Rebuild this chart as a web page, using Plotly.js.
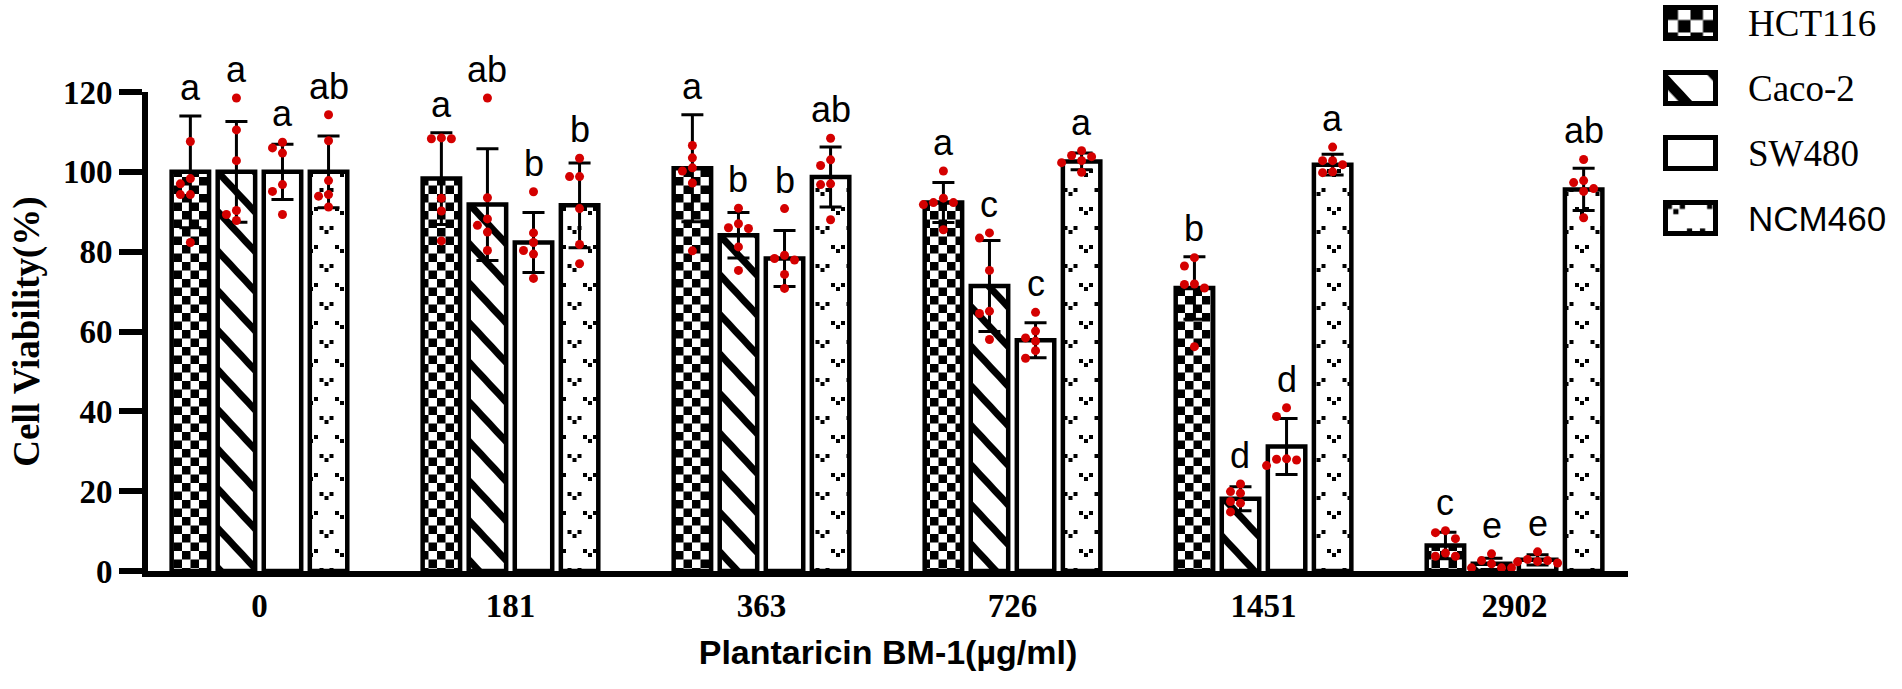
<!DOCTYPE html>
<html>
<head>
<meta charset="utf-8">
<script src="https://cdn.plot.ly/plotly-3.0.1.min.js"></script>
<style>
  body { margin: 0; background: #fff; }
  #chart { width: 1902px; height: 689px; }
</style>
</head>
<body>
<div id="chart"></div>
<script>
// ---- data ----
var doses = ['0', '181', '363', '726', '1451', '2902'];
var cellLines = ['HCT116', 'Caco-2', 'SW480', 'NCM460'];

var hctMean = [100, 98.3, 100.9, 92.3, 70.9, 6.4];
var hctSd = [14, 11.5, 13.4, 5, 7.8, 3.3];
var hctPoints = [
    [107.6, 98.3, 97, 94.3, 94.3, 82.3],
    [108.5, 108.3, 108.3, 93.4, 90.2, 82.7],
    [106.6, 103.5, 101, 100.2, 97.2, 80.2],
    [100.2, 93.4, 92.3, 92.3, 91.8, 85.5],
    [78.5, 76.4, 71.9, 70.9, 71.8, 56.2],
    [9.6, 10.1, 8.1, 4.5, 3.7, 3.7]
];
var hctLetters = ['a', 'a', 'a', 'a', 'b', 'c'];

var cacoMean = [100, 91.8, 84.1, 71.4, 18.1, 1.8];
var cacoSd = [12.6, 14, 5.7, 11.4, 3, 1.4];
var cacoPoints = [
    [118.5, 110.5, 102.8, 90.3, 89.3, 87.8],
    [118.5, 93.5, 88.2, 86.6, 84.9, 80.3],
    [90.9, 87, 86, 85.8, 81.2, 75.3],
    [83.4, 84.7, 75.3, 65.1, 64.5, 58],
    [21.8, 19.9, 19.5, 17.4, 17, 14.8],
    [4.3, 2.6, 1.8, 0.8, 0.8, 0.8]
];
var cacoLetters = ['a', 'ab', 'b', 'c', 'd', 'e'];

var swMean = [100, 82.3, 78.3, 57.8, 31.2, 2.8];
var swSd = [6.9, 7.5, 7, 4.4, 7, 1.3];
var swPoints = [
    [107.4, 106, 104.7, 96.8, 95.1, 89.3],
    [95, 84.7, 82.3, 80.3, 79.4, 73.3],
    [90.8, 79.1, 78.3, 77.9, 74.3, 70.8],
    [64.8, 60.1, 58.4, 57.6, 55.2, 53.3],
    [40.9, 38.7, 28.1, 28, 27.8, 26.4],
    [4.8, 2.9, 2.6, 2.3, 2, 2.4]
];
var swLetters = ['a', 'b', 'b', 'c', 'd', 'e'];

var ncmMean = [100, 91.6, 98.7, 102.6, 101.8, 95.6];
var ncmSd = [9, 10.6, 7.5, 2.1, 2.6, 5.3];
var ncmPoints = [
    [114.3, 107.8, 97.8, 94.3, 93.9, 91.2],
    [103.4, 98.8, 98.8, 90.8, 81.8, 77],
    [108.4, 103, 101.6, 97, 96.8, 88],
    [105.3, 104.1, 103.8, 102.8, 102.3, 99.9],
    [106.2, 102.8, 102.8, 101.8, 100, 99.8],
    [103.1, 97.8, 97.3, 95.8, 95.1, 88.5]
];
var ncmLetters = ['ab', 'b', 'ab', 'a', 'a', 'ab'];

var yTicks = [0, 20, 40, 60, 80, 100, 120];

var means = [hctMean, cacoMean, swMean, ncmMean];
var sds = [hctSd, cacoSd, swSd, ncmSd];
var points = [hctPoints, cacoPoints, swPoints, ncmPoints];
var letters = [hctLetters, cacoLetters, swLetters, ncmLetters];

// ---- geometry ----
var W = 1902, H = 689;
var margin = { l: 148, r: 274, t: 92, b: 118 };
var xRange = [-0.444, 5.452];
var yRange = [0, 120];
var plotW = W - margin.l - margin.r;
var plotH = H - margin.t - margin.b;
var pxPerX = plotW / (xRange[1] - xRange[0]);
var pxPerY = plotH / (yRange[1] - yRange[0]);
var bargap = 0.266, bargroupgap = 0.187;
var groupW = 1 - bargap;
var slotW = groupW / cellLines.length;

var serif = "'Liberation Serif', 'Times New Roman', serif";
var sans = "'Liberation Sans', Arial, sans-serif";
var dotRed = '#d40000';

function barOffset(j) {
    return -groupW / 2 + slotW * (j + 0.5);
}

// spread replicate dots sideways so they do not sit on top of each other
function swarmOffsets(values) {
    var dot = 9, step = 10;
    var order = values.map(function (v, i) { return i; })
        .sort(function (a, b) { return values[b] - values[a]; });
    var placed = [];
    var offsets = new Array(values.length);
    order.forEach(function (i) {
        var tries = [0, -1, 1, -2, 2];
        var k = 0;
        for (var t = 0; t < tries.length; t++) {
            k = tries[t];
            var clash = placed.some(function (p) {
                var dy = Math.abs(values[i] - p.v) * pxPerY;
                var dx = Math.abs(k - p.k) * step;
                return dx * dx + dy * dy < dot * dot;
            });
            if (!clash) break;
        }
        placed.push({ v: values[i], k: k });
        offsets[i] = k * step / pxPerX;
    });
    return offsets;
}

var xIdx = doses.map(function (d, i) { return i; });

var traces = [];
cellLines.forEach(function (name, j) {
    traces.push({
        type: 'bar',
        name: name,
        x: xIdx,
        y: means[j],
        error_y: { type: 'data', array: sds[j], visible: true, color: '#000', thickness: 3, width: 11 },
        marker: { color: '#fff', line: { color: '#000', width: 4.5 } },
        showlegend: false,
        hoverinfo: 'skip'
    });
});

cellLines.forEach(function (name, j) {
    var xs = [], ys = [];
    points[j].forEach(function (vals, i) {
        var offs = swarmOffsets(vals);
        vals.forEach(function (v, n) {
            xs.push(i + barOffset(j) + offs[n]);
            ys.push(v);
        });
    });
    traces.push({
        type: 'scatter',
        mode: 'markers',
        name: name + ' replicates',
        x: xs,
        y: ys,
        marker: { color: dotRed, size: 9 },
        cliponaxis: false,
        showlegend: false,
        hoverinfo: 'skip'
    });
});

// significance letters above each bar
var annotations = [];
cellLines.forEach(function (name, j) {
    letters[j].forEach(function (txt, i) {
        var top = Math.max(means[j][i] + sds[j][i], Math.max.apply(null, points[j][i]));
        annotations.push({
            x: i + barOffset(j), y: top, xref: 'x', yref: 'y',
            text: txt, showarrow: false, yanchor: 'bottom', yshift: 6,
            font: { family: sans, size: 36, color: '#000' }
        });
    });
});

// hand-made legend: patterned boxes + labels
function px2paperX(px) { return (px - margin.l) / plotW; }
function px2paperY(py) { return (H - margin.b - py) / plotH; }
var legendTops = [7.5, 72.5, 137.5, 202.5];
var legendFonts = [serif, serif, serif, sans];
var legendSizes = [37, 37, 37, 35];
var shapes = [];
cellLines.forEach(function (name, j) {
    var top = legendTops[j];
    shapes.push({
        type: 'rect', xref: 'paper', yref: 'paper',
        x0: px2paperX(1665.5), x1: px2paperX(1715.5),
        y0: px2paperY(top + 31), y1: px2paperY(top),
        line: { color: '#000', width: 5 }, fillcolor: '#fff'
    });
    annotations.push({
        xref: 'paper', yref: 'paper', x: px2paperX(1746), y: px2paperY(top + 15.5),
        xanchor: 'left', yanchor: 'middle', showarrow: false, text: name,
        font: { family: legendFonts[j], size: legendSizes[j], color: '#000' }
    });
});

var layout = {
    width: W,
    height: H,
    margin: margin,
    paper_bgcolor: '#fff',
    plot_bgcolor: '#fff',
    barmode: 'group',
    bargap: bargap,
    bargroupgap: bargroupgap,
    showlegend: false,
    xaxis: {
        range: xRange,
        tickvals: xIdx,
        ticktext: doses,
        ticks: '',
        showline: true,
        linecolor: '#000',
        linewidth: 6,
        showgrid: false,
        zeroline: false,
        tickfont: { family: serif, size: 33, color: '#000', weight: 'bold' },
        title: {
            text: 'Plantaricin BM-1(µg/ml)',
            font: { family: sans, size: 34, color: '#000', weight: 'bold' },
            standoff: 20
        }
    },
    yaxis: {
        range: yRange,
        tickvals: yTicks,
        ticks: 'outside',
        ticklen: 23,
        tickwidth: 6,
        tickcolor: '#000',
        showline: true,
        linecolor: '#000',
        linewidth: 6,
        showgrid: false,
        zeroline: false,
        tickfont: { family: serif, size: 33, color: '#000', weight: 'bold' },
        title: {
            text: 'Cell Viability(%)',
            font: { family: serif, size: 37, color: '#000', weight: 'bold' },
            standoff: 14
        }
    },
    annotations: annotations,
    shapes: shapes
};

// SVG fill patterns for the four cell lines
var patternDefs = [
    { size: [17, 17], body: '<rect width="17" height="17" fill="#fff"/><rect width="8.5" height="8.5" fill="#000"/><rect x="8.5" y="8.5" width="8.5" height="8.5" fill="#000"/>', rot: 0, legendScale: 1.47 },
    { size: [27, 27], body: '<rect width="27" height="27" fill="#fff"/><rect width="27" height="7" fill="#000"/>', rot: 47, legendScale: 1.45 },
    { size: [10, 10], body: '<rect width="10" height="10" fill="#fff"/>', rot: 0, legendScale: 1 },
    { size: [31, 38], body: '<rect width="31" height="38" fill="#fff"/>' +
        '<rect x="1" y="1" width="4" height="4" fill="#000"/><rect x="11" y="1" width="4" height="4" fill="#000"/><rect x="6" y="5" width="4" height="4" fill="#000"/>' +
        '<rect x="16.5" y="20" width="4" height="4" fill="#000"/><rect x="26.5" y="20" width="4" height="4" fill="#000"/><rect x="21.5" y="24" width="4" height="4" fill="#000"/>',
      rot: 0, legendScale: 1.3 }
];

function patternMarkup(id, def, scale, tx, ty) {
    var tf = 'translate(' + tx + ',' + ty + ') scale(' + scale + ')' + (def.rot ? ' rotate(' + def.rot + ')' : '');
    return '<pattern id="' + id + '" patternUnits="userSpaceOnUse" width="' + def.size[0] +
        '" height="' + def.size[1] + '" patternTransform="' + tf + '">' + def.body + '</pattern>';
}

Plotly.newPlot('chart', traces, layout, { displayModeBar: false, staticPlot: true }).then(function (gd) {
    var defs = gd.querySelector('svg.main-svg defs');
    var markup = '';
    patternDefs.forEach(function (def, j) {
        markup += patternMarkup('barPat' + j, def, 1, 0, 0);
        markup += patternMarkup('legPat' + j, def, def.legendScale, 1665.5, legendTops[j]);
    });
    defs.insertAdjacentHTML('beforeend', markup);

    var barTraces = gd.querySelectorAll('.barlayer .trace');
    barTraces.forEach(function (tr, j) {
        tr.querySelectorAll('.point path').forEach(function (p) {
            p.style.fill = 'url(#barPat' + j + ')';
        });
    });
    var legendBoxes = gd.querySelectorAll('.shapelayer path');
    legendBoxes.forEach(function (p, j) {
        p.style.fill = 'url(#legPat' + j + ')';
        p.style.fillOpacity = 1;
    });
});
</script>
</body>
</html>
